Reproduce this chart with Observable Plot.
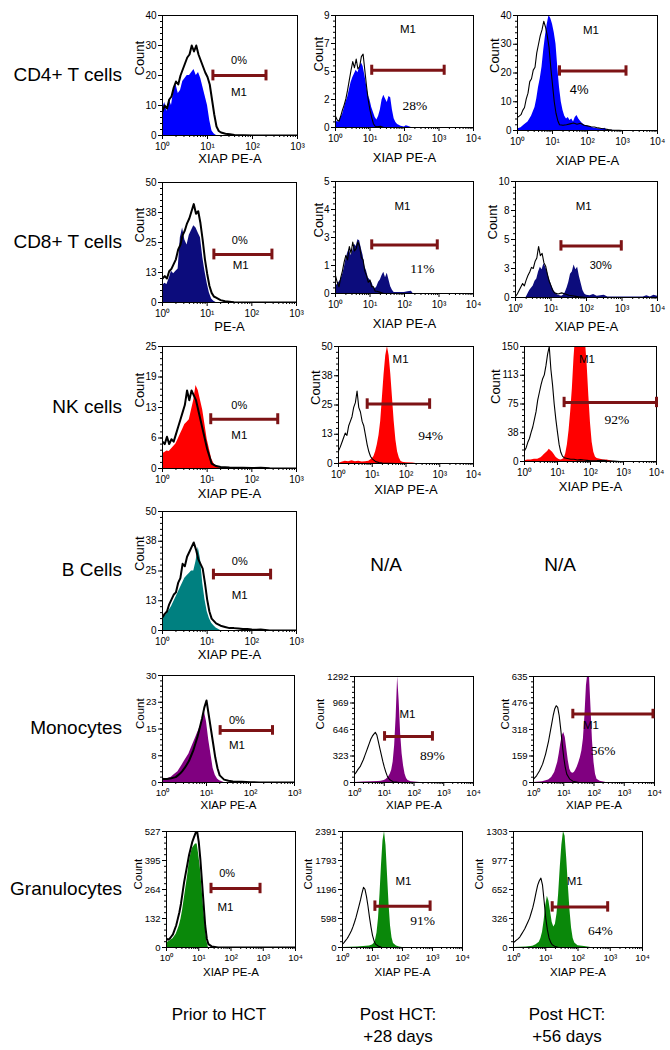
<!DOCTYPE html>
<html><head><meta charset="utf-8">
<script src="https://cdn.jsdelivr.net/npm/d3@7"></script>
<script src="https://cdn.jsdelivr.net/npm/@observablehq/plot@0.6"></script>
<style>
body{margin:0;background:#fff;}
#fig{position:relative;width:670px;height:1050px;overflow:hidden;font-family:"Liberation Sans",Arial,sans-serif;color:#000;}
.rowlab{position:absolute;right:548px;font-size:19px;white-space:nowrap;transform:translateY(-50%);}
.na{position:absolute;font-size:19px;transform:translate(-50%,-50%);}
.collab{position:absolute;font-size:17px;text-align:center;transform:translateX(-50%);line-height:22px;white-space:nowrap;}
</style></head><body><div id="fig"></div>
<script>
// ---------- categories ----------
const cellTypes = ["CD4+ T cells","CD8+ T cells","NK cells","B Cells","Monocytes","Granulocytes"];
const timepoints = ["Prior to HCT","Post HCT:\n+28 days","Post HCT:\n+56 days"];
const fillColors = ["#0000ff","#0c0c7c","#ff0000","#008080","#800080","#0a880a"];
const gateColor = "#7d1315";

// ---------- histogram series: [log10(XIAP PE-A), count] ----------
const cd4PriorFill=[[0,9],[0.05,11],[0.1,8],[0.15,12],[0.2,10],[0.25,15],[0.3,17],[0.35,14],[0.4,15],[0.45,18],[0.5,19],[0.55,20],[0.6,20],[0.65,21],[0.7,22],[0.75,20],[0.8,21],[0.85,19],[0.9,16],[0.95,13],[1.0,10],[1.05,5],[1.1,1.5],[1.15,0.5],[1.2,0]];
const cd4PriorLine=[[0,8],[0.05,10],[0.1,9],[0.15,12],[0.2,13],[0.25,16],[0.3,18],[0.35,17],[0.4,20],[0.45,22],[0.5,24],[0.55,26],[0.6,27],[0.65,30],[0.7,28],[0.75,30],[0.8,27],[0.85,25],[0.9,23],[0.95,21],[1.0,19.5],[1.05,17],[1.1,12],[1.15,7],[1.2,3],[1.25,1.5],[1.3,1],[1.4,0.6],[1.5,0.4],[1.6,0.2],[1.8,0.1],[2.0,0],[3,0]];
const cd4Day28Fill=[[0,0.3],[0.05,0.5],[0.1,0.4],[0.15,0.8],[0.2,1.0],[0.25,1.5],[0.3,2.0],[0.35,2.4],[0.4,3.0],[0.45,3.6],[0.5,4.0],[0.55,4.3],[0.6,4.6],[0.65,4.4],[0.7,4.8],[0.75,5.2],[0.8,4.9],[0.85,4.2],[0.9,3.4],[0.95,2.6],[1.0,2.2],[1.05,1.6],[1.1,1.2],[1.15,0.8],[1.2,0.6],[1.25,0.9],[1.3,1.4],[1.35,2.2],[1.4,2.6],[1.45,2.3],[1.5,2.0],[1.55,2.5],[1.6,2.4],[1.65,1.4],[1.7,0.7],[1.75,0.4],[1.8,0.25],[1.9,0.1],[2.0,0.05],[2.05,0.15],[2.1,0.1],[2.2,0]];
const cd4Day28Line=[[0,0.9],[0.05,0.6],[0.1,0.5],[0.15,0.9],[0.2,1.4],[0.25,1.8],[0.3,2.3],[0.35,3.0],[0.4,3.8],[0.45,4.6],[0.5,5.3],[0.55,4.8],[0.6,5.5],[0.65,4.7],[0.7,4.9],[0.75,5.7],[0.8,5.9],[0.85,4.6],[0.9,3.3],[0.95,2.2],[1.0,1.4],[1.05,0.8],[1.1,0.3],[1.15,0.1],[1.2,0.05],[1.3,0.1],[1.4,0],[4,0]];
const cd4Day56Fill=[[0,0.5],[0.1,1],[0.2,2],[0.3,3],[0.4,5],[0.5,8],[0.55,11],[0.6,15],[0.65,18],[0.7,22],[0.75,28],[0.8,33],[0.85,37],[0.9,40],[0.95,39],[1.0,37],[1.05,34],[1.1,30],[1.15,22],[1.2,15],[1.25,10],[1.3,7],[1.35,5],[1.4,4],[1.45,4.5],[1.5,3.5],[1.55,4],[1.6,3],[1.65,4.5],[1.7,5.2],[1.75,4],[1.8,3.2],[1.85,2.5],[1.9,2],[2.0,1.5],[2.1,1.2],[2.2,0.8],[2.3,0.6],[2.4,0.4],[2.5,0.8],[2.55,0.2],[2.6,0.1],[2.8,0]];
const cd4Day56Line=[[0,4.6],[0.05,5],[0.1,5.5],[0.15,7],[0.2,8],[0.25,11],[0.3,13],[0.35,17],[0.4,18],[0.45,21],[0.5,22],[0.55,27],[0.6,30],[0.65,33],[0.7,35],[0.75,38],[0.8,36],[0.85,33],[0.9,29],[0.95,22],[1.0,16],[1.05,10],[1.1,6],[1.15,3.5],[1.2,2],[1.3,1.8],[1.4,2],[1.5,2.3],[1.6,2.6],[1.7,2.2],[1.8,2.5],[1.9,1.8],[2.0,1.6],[2.1,1.3],[2.2,1.2],[2.3,0.9],[2.4,0.7],[2.5,0.5],[2.6,0.3],[2.7,0.2],[2.9,0.1],[3.0,0],[4,0]];
const cd8PriorFill=[[0,7],[0.05,8],[0.1,7.5],[0.15,10],[0.2,13],[0.25,12],[0.3,13],[0.35,14],[0.4,27],[0.45,31],[0.5,26],[0.55,24],[0.6,28],[0.65,30],[0.7,32],[0.75,31],[0.8,29],[0.85,27],[0.9,19],[0.95,13],[1.0,8],[1.05,4],[1.1,1.5],[1.15,0.5],[1.2,0]];
const cd8PriorLine=[[0,10],[0.05,11],[0.1,10],[0.15,13],[0.2,14],[0.25,16],[0.3,18],[0.35,22],[0.4,24],[0.45,28],[0.5,30],[0.55,33],[0.6,35],[0.65,38],[0.7,41],[0.75,37],[0.8,38],[0.85,33],[0.9,26],[0.95,18],[1.0,12],[1.05,7],[1.1,4],[1.15,2.5],[1.2,2],[1.3,1],[1.4,0.5],[1.5,0.3],[1.6,0.1],[1.7,0],[3,0]];
const cd8Day28Fill=[[0,0.3],[0.05,0.4],[0.1,0.5],[0.15,0.6],[0.2,0.8],[0.25,1.1],[0.3,1.5],[0.35,1.8],[0.4,2.0],[0.45,1.7],[0.5,1.9],[0.55,2.2],[0.6,2.1],[0.65,2.4],[0.7,2.35],[0.75,2.0],[0.8,1.7],[0.85,1.2],[0.9,1.0],[0.95,0.7],[1.0,0.6],[1.05,0.5],[1.1,0.3],[1.15,0.2],[1.2,0.3],[1.25,0.5],[1.3,0.6],[1.35,0.8],[1.4,0.95],[1.45,0.7],[1.5,0.9],[1.55,0.6],[1.6,0.3],[1.65,0.15],[1.7,0.05],[2.0,0.05],[2.1,0.08],[2.2,0.1],[2.25,0]];
const cd8Day28Line=[[0,0.8],[0.05,0.5],[0.1,0.3],[0.15,0.7],[0.2,1.0],[0.25,1.4],[0.3,1.7],[0.35,1.5],[0.4,2.1],[0.45,1.8],[0.5,2.3],[0.55,1.9],[0.6,2.0],[0.65,2.3],[0.7,2.1],[0.75,1.6],[0.8,1.5],[0.85,1.0],[0.9,0.8],[0.95,0.5],[1.0,0.6],[1.05,0.3],[1.1,0.3],[1.15,0.1],[1.2,0.1],[1.3,0.05],[1.4,0],[4,0]];
const cd8Day56Fill=[[0.3,0],[0.35,0.3],[0.4,0.6],[0.45,0.8],[0.5,1.0],[0.55,1.4],[0.6,1.6],[0.65,2.2],[0.7,2.6],[0.75,2.4],[0.8,2.9],[0.85,2.6],[0.9,2.2],[0.95,1.6],[1.0,1.2],[1.05,0.8],[1.1,0.5],[1.15,0.3],[1.2,0.2],[1.3,0.1],[1.35,0.2],[1.4,0.4],[1.45,0.8],[1.5,1.3],[1.55,2.0],[1.6,2.2],[1.65,2.8],[1.7,2.4],[1.75,2.6],[1.8,1.8],[1.85,1.2],[1.9,0.6],[1.95,0.3],[2.0,0.2],[2.1,0.15],[2.2,0.25],[2.3,0.1],[2.5,0.2],[2.6,0.05],[3.6,0.05],[3.7,0.15],[3.8,0.05],[3.9,0.2],[4,0.1]];
const cd8Day56Line=[[0,0.1],[0.05,0.3],[0.1,0.6],[0.15,0.9],[0.2,1.2],[0.25,1.0],[0.3,1.5],[0.35,1.9],[0.4,2.2],[0.45,2.6],[0.5,2.5],[0.55,3.1],[0.6,3.4],[0.65,4.4],[0.7,3.6],[0.75,3.8],[0.8,3.0],[0.85,2.7],[0.9,2.0],[0.95,1.4],[1.0,1.0],[1.05,0.6],[1.1,0.4],[1.2,0.3],[1.3,0.4],[1.4,0.3],[1.5,0.2],[1.6,0.15],[1.7,0.1],[1.8,0.05],[2.0,0],[4,0]];
const nkPriorFill=[[0,3],[0.05,3.3],[0.1,3.6],[0.15,3.5],[0.2,4],[0.25,4.5],[0.3,5],[0.35,6],[0.4,7],[0.45,8],[0.5,9],[0.55,9.5],[0.6,10],[0.65,12],[0.7,14],[0.75,17],[0.8,16],[0.85,14],[0.9,12],[0.95,9],[1.0,6],[1.05,4],[1.1,2],[1.15,1],[1.2,0.5],[1.3,0]];
const nkPriorLine=[[0,5.5],[0.05,5],[0.1,6.5],[0.15,5],[0.2,6],[0.25,5.5],[0.3,7],[0.35,8.5],[0.4,10],[0.45,11.5],[0.5,13],[0.55,16],[0.6,14],[0.65,16],[0.7,15],[0.75,14],[0.8,12],[0.85,10],[0.9,8],[0.95,6],[1.0,4],[1.05,2.5],[1.1,1],[1.2,0.5],[1.3,0.3],[1.5,0.2],[1.8,0.15],[2.0,0.1],[2.2,0.15],[2.4,0.05],[2.6,0],[3,0]];
const nkDay28Fill=[[0,0],[0.1,0.5],[0.2,1],[0.3,0.8],[0.4,1.2],[0.5,0.8],[0.6,1],[0.7,0.6],[0.8,0.8],[0.9,1],[1.0,2],[1.05,3],[1.1,5],[1.15,8],[1.2,12],[1.25,18],[1.3,28],[1.35,38],[1.4,46],[1.45,50],[1.5,46],[1.55,38],[1.6,28],[1.65,18],[1.7,10],[1.75,5],[1.8,2.5],[1.85,1],[1.9,0.5],[2.0,0.3],[2.2,0.2],[2.3,0]];
const nkDay28Line=[[0,5.4],[0.05,7],[0.1,9],[0.15,11],[0.2,13],[0.25,12],[0.3,16],[0.35,18],[0.4,20],[0.45,24],[0.5,26],[0.55,31],[0.6,24],[0.65,22],[0.7,18],[0.75,16],[0.8,12],[0.85,8],[0.9,5],[0.95,3],[1.0,2],[1.1,0.8],[1.2,0.4],[1.3,0.2],[1.5,0.1],[1.7,0],[4,0]];
const nkDay56Fill=[[0,1],[0.1,2],[0.2,2],[0.3,3],[0.4,3],[0.5,5],[0.55,7],[0.6,9],[0.65,11],[0.7,13],[0.75,16],[0.8,14],[0.85,12],[0.9,9],[0.95,6],[1.0,4],[1.05,2.5],[1.1,2],[1.15,2.5],[1.2,4],[1.25,10],[1.3,22],[1.35,40],[1.4,65],[1.45,95],[1.5,135],[1.55,165],[1.6,180],[1.65,185],[1.7,180],[1.75,175],[1.8,165],[1.85,155],[1.9,125],[1.95,85],[2.0,50],[2.05,25],[2.1,12],[2.15,6],[2.2,4],[2.3,3],[2.4,2],[2.5,2],[2.6,1],[2.7,0]];
const nkDay56Line=[[0,14],[0.05,18],[0.1,25],[0.15,30],[0.2,38],[0.25,45],[0.3,55],[0.35,65],[0.4,80],[0.45,90],[0.5,100],[0.55,108],[0.6,113],[0.65,125],[0.7,140],[0.75,150],[0.8,120],[0.85,100],[0.9,75],[0.95,55],[1.0,38],[1.05,22],[1.1,12],[1.15,7],[1.2,5],[1.3,4],[1.4,3],[1.5,3],[1.6,2],[1.7,2.5],[1.8,2],[1.9,1.5],[2.0,1],[2.2,1.2],[2.4,1.6],[2.5,1],[2.7,0.5],[2.9,0],[4,0]];
const bPriorFill=[[0,5],[0.05,6],[0.1,7],[0.15,8.5],[0.2,10],[0.25,12],[0.3,14],[0.35,16],[0.4,18],[0.45,20],[0.5,22],[0.55,23],[0.6,24],[0.65,25],[0.7,25],[0.75,29],[0.8,35],[0.85,30],[0.9,20],[0.95,13],[1.0,8],[1.05,5],[1.1,3],[1.15,2],[1.2,1],[1.3,0]];
const bPriorLine=[[0,5.6],[0.05,7],[0.1,8],[0.15,11],[0.2,13],[0.25,15],[0.3,16],[0.35,20],[0.4,22],[0.45,28],[0.5,27],[0.55,31],[0.6,33],[0.65,35],[0.7,37],[0.75,34],[0.8,30],[0.85,28],[0.9,26],[0.95,20],[1.0,13],[1.05,8],[1.1,5],[1.2,3],[1.3,2],[1.4,1.5],[1.5,1],[1.6,1],[1.7,0.8],[1.8,0.6],[1.9,0.6],[2.0,0.4],[2.1,0.3],[2.2,0.4],[2.3,0.2],[2.4,0],[3,0]];
const monoPriorFill=[[0,22],[0.02,1.2],[0.1,1],[0.2,1.5],[0.25,2],[0.3,2.5],[0.35,3],[0.4,4],[0.45,5],[0.5,6],[0.55,7],[0.6,8],[0.65,9.5],[0.7,11],[0.75,12.5],[0.8,14],[0.85,15.5],[0.9,17],[0.95,20],[1.0,17],[1.05,12],[1.1,8],[1.15,4],[1.2,2],[1.25,1],[1.3,0.5],[1.4,0]];
const monoPriorLine=[[0,1],[0.1,1],[0.2,1.2],[0.3,1.5],[0.35,2],[0.4,2.5],[0.45,3.2],[0.5,4],[0.55,5],[0.6,6],[0.65,7.5],[0.7,9],[0.75,11],[0.8,13],[0.85,15.5],[0.9,18],[0.95,21],[1.0,23],[1.05,19],[1.1,15],[1.15,11],[1.2,7],[1.25,4],[1.3,2],[1.4,0.8],[1.5,0.5],[1.6,0.3],[1.8,0.2],[2.0,0.1],[2.2,0],[3,0]];
const monoDay28Fill=[[0,0],[0.3,5],[0.6,8],[0.8,12],[0.9,15],[1.0,25],[1.05,35],[1.1,50],[1.15,70],[1.2,100],[1.25,150],[1.3,250],[1.35,450],[1.4,800],[1.45,1292],[1.5,1000],[1.55,600],[1.6,350],[1.65,200],[1.7,100],[1.75,50],[1.8,25],[1.9,10],[2.0,5],[2.2,0]];
const monoDay28Line=[[0,100],[0.05,120],[0.1,150],[0.15,175],[0.2,200],[0.25,240],[0.3,280],[0.35,330],[0.4,380],[0.45,430],[0.5,480],[0.55,530],[0.6,565],[0.65,590],[0.7,611],[0.75,580],[0.8,500],[0.85,420],[0.9,340],[0.95,260],[1.0,190],[1.05,130],[1.1,80],[1.15,50],[1.2,30],[1.3,10],[1.4,5],[1.5,0],[4,0]];
const monoDay56Fill=[[0,0],[0.3,5],[0.5,15],[0.6,30],[0.7,60],[0.8,120],[0.85,170],[0.9,230],[0.95,280],[1.0,300],[1.05,270],[1.1,200],[1.15,130],[1.2,80],[1.25,60],[1.3,55],[1.35,60],[1.4,75],[1.45,95],[1.5,120],[1.55,150],[1.6,190],[1.65,260],[1.7,400],[1.75,580],[1.8,660],[1.85,640],[1.9,450],[1.95,250],[2.0,120],[2.05,50],[2.1,20],[2.2,8],[2.4,0]];
const monoDay56Line=[[0,20],[0.1,40],[0.2,70],[0.3,110],[0.4,170],[0.5,250],[0.55,300],[0.6,350],[0.65,400],[0.7,440],[0.75,460],[0.8,450],[0.85,400],[0.9,320],[0.95,230],[1.0,150],[1.05,90],[1.1,50],[1.2,20],[1.3,8],[1.5,0],[4,0]];
const granPriorFill=[[0,20],[0.05,25],[0.1,30],[0.15,35],[0.2,40],[0.25,50],[0.3,60],[0.35,80],[0.4,100],[0.45,130],[0.5,170],[0.55,220],[0.6,270],[0.65,320],[0.7,380],[0.75,420],[0.8,450],[0.85,460],[0.9,470],[0.95,470],[1.0,420],[1.05,360],[1.1,270],[1.15,180],[1.2,100],[1.25,30],[1.3,0]];
const granPriorLine=[[0,40],[0.05,35],[0.1,40],[0.15,50],[0.2,60],[0.25,80],[0.3,100],[0.35,130],[0.4,160],[0.45,200],[0.5,250],[0.55,300],[0.6,340],[0.65,380],[0.7,420],[0.75,450],[0.8,480],[0.85,500],[0.9,520],[0.95,527],[1.0,480],[1.05,400],[1.1,300],[1.15,200],[1.2,100],[1.25,40],[1.3,15],[1.4,5],[1.6,0],[4,0]];
const granDay28Fill=[[0,0],[0.5,10],[0.7,20],[0.9,30],[1.0,50],[1.05,80],[1.1,150],[1.15,300],[1.2,600],[1.25,1100],[1.3,1700],[1.35,2200],[1.4,2391],[1.45,2100],[1.5,1500],[1.55,900],[1.6,450],[1.65,200],[1.7,80],[1.8,30],[1.9,10],[2.0,0]];
const granDay28Line=[[0,70],[0.05,100],[0.1,140],[0.15,180],[0.2,230],[0.25,290],[0.3,350],[0.35,430],[0.4,520],[0.45,620],[0.5,740],[0.55,860],[0.6,980],[0.65,1120],[0.7,1240],[0.75,1200],[0.8,1050],[0.85,850],[0.9,620],[0.95,420],[1.0,250],[1.05,140],[1.1,70],[1.2,25],[1.3,5],[1.4,0],[4,0]];
const granDay56Fill=[[0,0],[0.4,5],[0.6,15],[0.7,30],[0.8,60],[0.85,100],[0.9,170],[0.95,300],[1.0,470],[1.05,575],[1.1,520],[1.15,400],[1.2,280],[1.25,230],[1.3,260],[1.35,380],[1.4,600],[1.45,900],[1.5,1150],[1.55,1303],[1.6,1250],[1.65,1000],[1.7,700],[1.75,420],[1.8,220],[1.85,100],[1.9,50],[2.0,20],[2.2,10],[2.4,0]];
const granDay56Line=[[0,56],[0.05,70],[0.1,85],[0.15,100],[0.2,120],[0.25,150],[0.3,180],[0.35,210],[0.4,250],[0.45,290],[0.5,330],[0.55,390],[0.6,450],[0.65,530],[0.7,620],[0.75,700],[0.8,750],[0.85,779],[0.9,700],[0.95,520],[1.0,330],[1.05,200],[1.1,110],[1.15,60],[1.2,30],[1.3,10],[1.4,0],[4,0]];

// ---------- y tick labels (count axis) ----------
const yLabelsCd4 = [[0,10,20,30,40],[0,2,5,7,9],[0,10,20,30,40]];
const yLabelsCd8 = [[0,13,25,38,50],[0,1,3,4,5],[0,3,5,8,10]];
const yLabelsNk  = [[0,6,13,19,25],[0,13,25,38,50],[0,38,75,113,150]];
const yLabelsB   = [[0,13,25,38,50]];
const yLabelsMono= [[0,8,15,23,30],[0,323,646,969,1292],[0,159,318,476,635]];
const yLabelsGran= [[0,132,264,395,527],[0,598,1196,1793,2391],[0,326,652,977,1303]];
// x axis decades (upper limit exponent)
const xDecades = [[3,4,4],[3,4,4],[3,4,4],[3],[3,4,4],[4,4,4]];
const xAxisTitles = [["XIAP PE-A","XIAP PE-A","XIAP PE-A"],["PE-A","XIAP PE-A","XIAP PE-A"],["XIAP PE-A","XIAP PE-A","XIAP PE-A"],["XIAP PE-A"],["XIAP PE-A","XIAP PE-A","XIAP PE-A"],["XIAP PE-A","XIAP PE-A","XIAP PE-A"]];

// ---------- M1 gates: [log10 low, log10 high, count level] ----------
const gatesCd4 = [[1.12,2.3,20],[1.05,3.15,4.6],[1.2,3.1,20.7]];
const gatesCd8 = [[1.15,2.45,20],[1.05,2.95,2.17],[1.28,2.98,4.45]];
const gatesNk  = [[1.08,2.58,10.1],[0.85,2.7,25.4],[1.2,4.0,77]];
const gatesB   = [[1.14,2.42,23.5]];
const gatesMono= [[1.31,2.5,14.6],[1.01,2.62,562],[1.3,3.95,410]];
const gatesGran= [[1.38,2.9,268],[1.08,2.92,852],[1.2,2.92,456]];
// positive-fraction labels and their anchor [log10 x, count]
const pctText = [["0%","28%","4%"],["0%","11%","30%"],["0%","94%","92%"],["0%"],["0%","89%","56%"],["0%","91%","64%"]];
const pctAt   = [[[1.7,25],[2.3,1.75],[1.76,14.2]],[[1.73,25.7],[2.52,1.1],[2.4,2.8]],[[1.72,12.9],[2.73,12.1],[2.8,55]],[[1.73,28.9]],[[1.69,17.4],[2.62,326],[2.3,190]],[[1.88,336],[2.67,545],[2.69,186]]];
const m1At    = [[[1.7,14.5],[2.1,7.9],[2.1,35]],[[1.75,15.3],[1.94,3.9],[1.92,7.9]],[[1.72,6.8],[1.84,44.6],[1.89,133]],[[1.73,14.9]],[[1.69,10.4],[1.78,836],[1.9,345]],[[1.83,182],[2.03,1365],[1.9,742]]];

// ---------- layout (page px): frame left, top, right, bottom, x-title offset ----------
const LAYOUT = [
  [[162,15,297,135,27],[335,15,473,127,34],[517,15,657,130,34]],
  [[162,182,296,302,28],[335,181,473,293,34],[515,181,657,297,33]],
  [[162,346,296,468,29],[338,346,473,463,30],[524,346,656,461,29]],
  [[162,511,296,630,28]],
  [[162,675,294,782,26],[354,676,473,782,26],[533,676,654,782,26]],
  [[166,831,295,947,28],[342,831,462,947,28],[513,831,642,947,28]]
];
const rowLabelY = [75,242,407,570,728,889];

const seriesFill = [[cd4PriorFill,cd4Day28Fill,cd4Day56Fill],[cd8PriorFill,cd8Day28Fill,cd8Day56Fill],[nkPriorFill,nkDay28Fill,nkDay56Fill],[bPriorFill],[monoPriorFill,monoDay28Fill,monoDay56Fill],[granPriorFill,granDay28Fill,granDay56Fill]];
const seriesLine = [[cd4PriorLine,cd4Day28Line,cd4Day56Line],[cd8PriorLine,cd8Day28Line,cd8Day56Line],[nkPriorLine,nkDay28Line,nkDay56Line],[bPriorLine],[monoPriorLine,monoDay28Line,monoDay56Line],[granPriorLine,granDay28Line,granDay56Line]];
const yLabels = [yLabelsCd4,yLabelsCd8,yLabelsNk,yLabelsB,yLabelsMono,yLabelsGran];
const gates = [gatesCd4,gatesCd8,gatesNk,gatesB,gatesMono,gatesGran];
const sansPct = {"0-2":13,"1-2":11};

const fig = document.getElementById("fig");
const SUP = ["\u2070","\u00b9","\u00b2","\u00b3","\u2074"];
const SANS = "Liberation Sans, Arial, sans-serif";
const SERIF = "Liberation Serif, Times New Roman, serif";

function drawPanel(r, c) {
  const [L,T,R,B,labDy] = LAYOUT[r][c];
  const w = R-L, h = B-T;
  const ml=48, mr=14, mt=12, mb=44;
  const labs = yLabels[r][c];
  const ymax = labs[labs.length-1];
  const yTicks = labs.map((_, i) => ymax*i/4);
  const yMinor = d3.range(0,21).map(i => ymax*i/20);
  const dec = xDecades[r][c];
  const xMajor = d3.range(0,dec+1).map(k => 10**k);
  const xMinor = [];
  for (let k=0;k<dec;k++) for (let m=2;m<=9;m++) xMinor.push(m*10**k);
  const X = d => 10**d[0], Y = d => d[1];
  const g = gates[r][c];
  const capH = ymax*0.045;
  const small = r >= 4;
  const tickFs = small ? 9.5 : 10;
  const titleFs = small ? 11.5 : 13;
  const digits = String(ymax).length;
  const key = r+"-"+c;
  const pctSans = c === 0 || key in sansPct;
  const pctFs = c === 0 ? 11 : (sansPct[key] || 13.5);
  const svg = Plot.plot({
    width: w+ml+mr, height: h+mt+mb,
    marginLeft: ml, marginRight: mr, marginTop: mt, marginBottom: mb,
    x: {type: "log", domain: [1, 10**dec]},
    y: {domain: [0, ymax]},
    style: {background: "transparent", overflow: "visible", fontFamily: SANS, fontSize: tickFs+"px", color: "#000"},
    marks: [
      Plot.areaY(seriesFill[r][c], {x: X, y: Y, fill: fillColors[r], clip: true}),
      Plot.line(seriesLine[r][c], {x: X, y: Y, stroke: "#000", strokeWidth: c === 0 ? 2 : 1.1, clip: true}),
      Plot.frame({stroke: "#000", strokeWidth: 1}),
      Plot.axisX({ticks: xMinor, tickSize: 2, tickFormat: () => "", label: null}),
      Plot.axisX({ticks: xMajor, tickSize: 4, tickPadding: 3, tickFormat: d => "10" + SUP[Math.round(Math.log10(d))], label: null, fontSize: tickFs}),
      Plot.axisY({ticks: yMinor, tickSize: 2, tickFormat: () => "", label: null}),
      Plot.axisY({ticks: yTicks, tickSize: 4, tickPadding: 2, tickFormat: d => String(labs[yTicks.indexOf(d)]), label: null, fontSize: tickFs}),
      Plot.text([xAxisTitles[r][c]], {frameAnchor: "bottom", dy: labDy, fontSize: titleFs, fontFamily: SANS}),
      Plot.text(["Count"], {frameAnchor: "left", rotate: -90, dx: -(11 + 5.8*digits), fontSize: titleFs, fontFamily: SANS}),
      Plot.ruleY([g], {x1: d => 10**d[0], x2: d => 10**d[1], y: d => d[2], stroke: gateColor, strokeWidth: 3}),
      Plot.ruleX([[g[0],g[2]],[g[1],g[2]]], {x: X, y1: d => d[1]-capH, y2: d => d[1]+capH, stroke: gateColor, strokeWidth: 3}),
      Plot.text([m1At[r][c]], {x: X, y: Y, text: () => "M1", fontSize: 11.5, fontFamily: SANS}),
      Plot.text([pctAt[r][c]], {x: X, y: Y, text: () => pctText[r][c], fontSize: pctFs, fontFamily: pctSans ? SANS : SERIF})
    ]
  });
  svg.style.position = "absolute";
  svg.style.left = (L-ml) + "px";
  svg.style.top = (T-mt) + "px";
  svg.style.maxWidth = "none";
  fig.appendChild(svg);
}

for (let r=0;r<LAYOUT.length;r++) for (let c=0;c<LAYOUT[r].length;c++) drawPanel(r,c);

cellTypes.forEach((name, i) => {
  const d = document.createElement("div");
  d.className = "rowlab"; d.textContent = name; d.style.top = rowLabelY[i] + "px";
  fig.appendChild(d);
});
[[386,565],[560,565]].forEach(([x,y]) => {
  const d = document.createElement("div");
  d.className = "na"; d.textContent = "N/A"; d.style.left = x+"px"; d.style.top = y+"px";
  fig.appendChild(d);
});
[[219,1004],[398,1004],[567,1004]].forEach(([x,y], i) => {
  const d = document.createElement("div");
  d.className = "collab"; d.style.left = x+"px"; d.style.top = y+"px";
  d.innerHTML = timepoints[i].split("\n").join("<br>");
  fig.appendChild(d);
});
</script></body></html>
